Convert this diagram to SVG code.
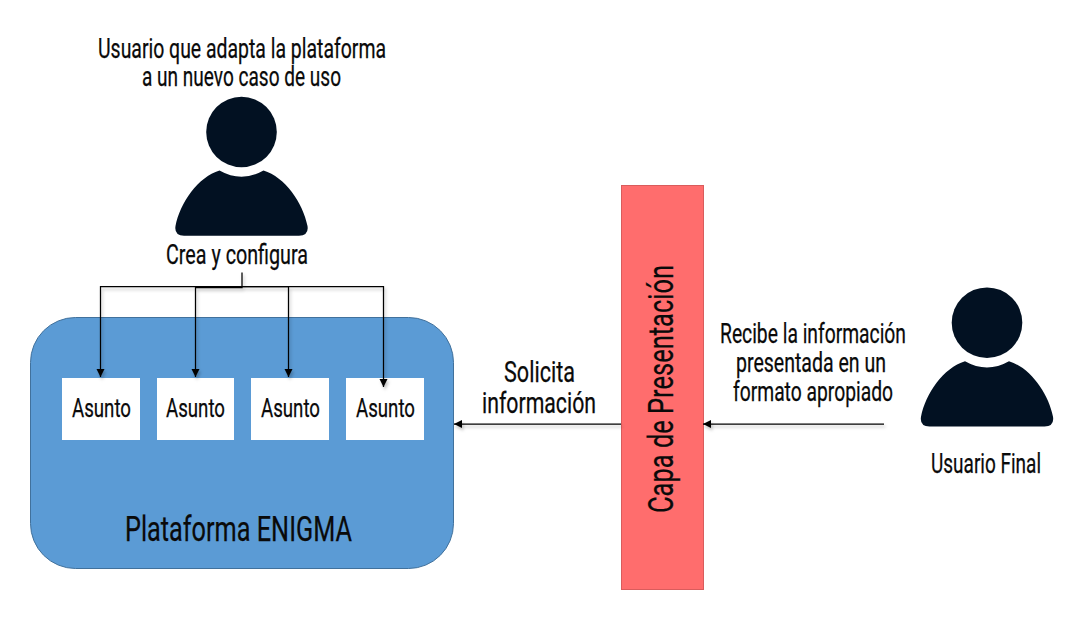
<svg xmlns="http://www.w3.org/2000/svg" xmlns:xlink="http://www.w3.org/1999/xlink" width="1083" height="625" viewBox="0 0 1083 625">
<style>
text{font-family:"Roboto","Liberation Sans",sans-serif;fill:#0a0a0a;stroke:#0a0a0a;stroke-width:.25;font-weight:400}
.s{font-size:27px}
.a{font-size:26px}
.m{font-size:29px}
.l{font-size:35.5px}
.box{fill:#fff}
.line{fill:none;stroke:#000;stroke-width:1.25}
.ah{fill:#000}
</style>
<defs>
<filter id="sh" x="-10%" y="-10%" width="120%" height="120%"><feDropShadow dx="1.5" dy="2.5" stdDeviation="1.5" flood-color="#000" flood-opacity="0.25"/></filter>
<marker id="arr" markerUnits="userSpaceOnUse" markerWidth="9" markerHeight="9" refX="8" refY="4" orient="auto"><path d="M0 0L8 4L0 8Z" class="ah"/></marker>
<g id="person"><circle cx="241.5" cy="132" r="35.3" fill="#021122"/><path d="M219.5 170.5Q241.5 183 263.5 170.5C285 177 303 203 307.5 226Q309 235.7 299 235.7H184Q174 235.7 175.5 226C180 203 198 177 219.5 170.5Z" fill="#021122"/></g>
</defs>
<rect width="1083" height="625" fill="#fff"/>
<g id="plataforma"><rect x="30.5" y="317.5" width="423" height="251" rx="45" fill="#5b9bd5" stroke="#41719c"/><text class="l" x="125" y="541" textLength="227" lengthAdjust="spacingAndGlyphs">Plataforma ENIGMA</text></g>
<g id="asunto1"><rect class="box" x="62" y="378" width="78" height="62"/><text class="a" x="72" y="416.5" textLength="59" lengthAdjust="spacingAndGlyphs">Asunto</text></g>
<g id="asunto2"><rect class="box" x="157" y="378" width="77" height="62"/><text class="a" x="166" y="416.5" textLength="59" lengthAdjust="spacingAndGlyphs">Asunto</text></g>
<g id="asunto3"><rect class="box" x="251" y="378" width="78" height="62"/><text class="a" x="261" y="416.5" textLength="59" lengthAdjust="spacingAndGlyphs">Asunto</text></g>
<g id="asunto4"><rect class="box" x="346" y="378" width="78" height="62"/><text class="a" x="356" y="416.5" textLength="59" lengthAdjust="spacingAndGlyphs">Asunto</text></g>
<g id="capa"><rect x="621.5" y="185.5" width="82" height="404" fill="#ff6d6d" stroke="#d95c5c"/><text class="l" transform="translate(673 513) rotate(-90)" textLength="248" lengthAdjust="spacingAndGlyphs">Capa de Presentación</text></g>
<g id="usuario-adapta"><use xlink:href="#person" href="#person"/><text class="s" x="98" y="58" textLength="288" lengthAdjust="spacingAndGlyphs">Usuario que adapta la plataforma</text><text class="s" x="142" y="86" textLength="199" lengthAdjust="spacingAndGlyphs">a un nuevo caso de uso</text></g>
<g id="usuario-final"><use xlink:href="#person" href="#person" transform="translate(745.5 190.7)"/><text class="s" x="931" y="473" textLength="110" lengthAdjust="spacingAndGlyphs">Usuario Final</text></g>
<g id="connectors" filter="url(#sh)">
<path class="line" d="M242 272.5V287.5H195.5V377" marker-end="url(#arr)"/>
<path class="line" d="M242 286.5H100.5V377" marker-end="url(#arr)"/>
<path class="line" d="M242 286.5H288.5V377" marker-end="url(#arr)"/>
<path class="line" d="M242 286.5H383.5V387" marker-end="url(#arr)"/>
<path class="line" d="M621 424H454" marker-end="url(#arr)"/>
<path class="line" d="M884 424H703" marker-end="url(#arr)"/>
</g>
<g id="labels">
<text class="s" x="166" y="264" textLength="142" lengthAdjust="spacingAndGlyphs">Crea y configura</text>
<text class="m" x="504" y="381.5" textLength="71" lengthAdjust="spacingAndGlyphs">Solicita</text>
<text class="m" x="482" y="413" textLength="114" lengthAdjust="spacingAndGlyphs">información</text>
<text class="s" x="720" y="343" textLength="186" lengthAdjust="spacingAndGlyphs">Recibe la información</text>
<text class="s" x="736" y="372" textLength="150" lengthAdjust="spacingAndGlyphs">presentada en un</text>
<text class="s" x="733" y="401" textLength="160" lengthAdjust="spacingAndGlyphs">formato apropiado</text>
</g>
</svg>
